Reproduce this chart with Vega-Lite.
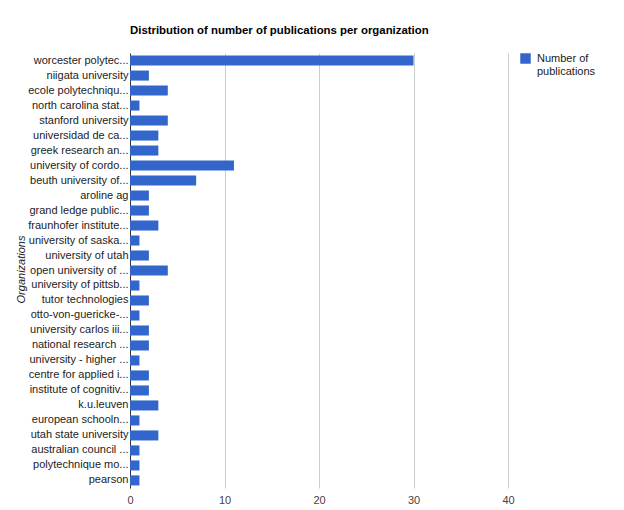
{
  "$schema": "https://vega.github.io/schema/vega-lite/v6.json",
  "autosize": "none",
  "width": 378,
  "height": 435,
  "padding": {"left": 130, "top": 53, "right": 116, "bottom": 22},
  "background": "white",
  "title": {"text": "Distribution of number of publications per organization", "anchor": "start", "frame": "group", "font": "Liberation Sans", "fontSize": 11.4, "fontWeight": "bold", "color": "#000000", "offset": 17},
  "data": {"values": [
    {"org": "worcester polytec...", "n": 30},
    {"org": "niigata university", "n": 2},
    {"org": "ecole polytechniqu...", "n": 4},
    {"org": "north carolina stat...", "n": 1},
    {"org": "stanford university", "n": 4},
    {"org": "universidad de ca...", "n": 3},
    {"org": "greek research an...", "n": 3},
    {"org": "university of cordo...", "n": 11},
    {"org": "beuth university of...", "n": 7},
    {"org": "aroline ag", "n": 2},
    {"org": "grand ledge public...", "n": 2},
    {"org": "fraunhofer institute...", "n": 3},
    {"org": "university of saska...", "n": 1},
    {"org": "university of utah", "n": 2},
    {"org": "open university of ...", "n": 4},
    {"org": "university of pittsb...", "n": 1},
    {"org": "tutor technologies", "n": 2},
    {"org": "otto-von-guericke-...", "n": 1},
    {"org": "university carlos iii...", "n": 2},
    {"org": "national research ...", "n": 2},
    {"org": "university - higher ...", "n": 1},
    {"org": "centre for applied i...", "n": 2},
    {"org": "institute of cognitiv...", "n": 2},
    {"org": "k.u.leuven", "n": 3},
    {"org": "european schooln...", "n": 1},
    {"org": "utah state university", "n": 3},
    {"org": "australian council ...", "n": 1},
    {"org": "polytechnique mo...", "n": 1},
    {"org": "pearson", "n": 1}
  ]},
  "mark": {"type": "bar", "color": "#3366cc"},
  "encoding": {
    "y": {"field": "org", "type": "nominal", "sort": null,
      "scale": {"paddingInner": 0.33, "paddingOuter": 0.17},
      "axis": {"title": "Organizations", "titleFont": "Liberation Sans", "titleFontSize": 11, "titleFontStyle": "italic", "titleFontWeight": "normal", "titleColor": "#222222", "titleX": -104, "titleY": 216, "titleAngle": -90,
        "labelFont": "Liberation Sans", "labelFontSize": 11, "labelColor": "#222222", "labelPadding": 2, "labelLimit": 200,
        "ticks": false, "domainColor": "#333333", "domainWidth": 1, "grid": false}},
    "x": {"field": "n", "type": "quantitative",
      "scale": {"domain": [0, 40], "nice": false},
      "axis": {"title": null, "values": [0, 10, 20, 30, 40], "labelFont": "Liberation Sans", "labelFontSize": 11, "labelColor": "#444444", "labelPadding": 6, "labelFlush": false,
        "ticks": false, "domain": false, "grid": true, "gridColor": "#cccccc", "gridWidth": 1}},
    "color": {"datum": "Number of publications", "type": "nominal",
      "scale": {"range": ["#3366cc"]},
      "legend": {"title": null, "orient": "none", "legendX": 390, "legendY": 0, "symbolType": "square", "symbolSize": 110, "symbolStrokeWidth": 0,
        "labelFont": "Liberation Sans", "labelFontSize": 11, "labelColor": "#222222",
        "labelExpr": "['Number of', 'publications']", "labelOffset": 6}}
  },
  "config": {"view": {"stroke": null}}
}
